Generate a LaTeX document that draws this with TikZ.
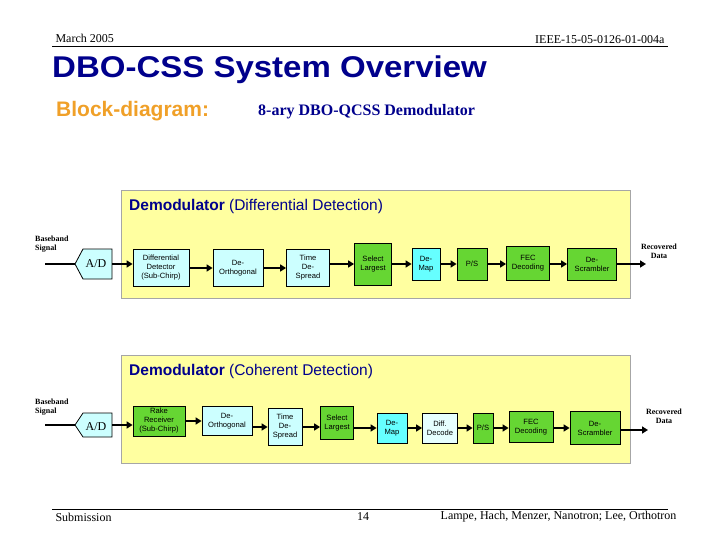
\documentclass[tikz,border=0pt]{standalone}
\usepackage{fontspec}
\setmainfont{Liberation Serif}
\newfontfamily\sans{Liberation Sans}
\usetikzlibrary{arrows.meta}
\definecolor{navy}{RGB}{0,0,140}
\definecolor{panel}{RGB}{255,255,160}
\definecolor{cy}{RGB}{204,255,255}
\definecolor{cy2}{RGB}{102,255,255}
\definecolor{cy3}{RGB}{230,255,255}
\definecolor{gr}{RGB}{102,214,51}
\definecolor{orng}{RGB}{240,160,40}
\tikzset{
 blk/.style={draw=black,line width=0.8pt,align=center,font=\sans\fontsize{7.6}{9}\selectfont,inner sep=0pt},
 cyb/.style={blk,fill=cy},
 grb/.style={blk,fill=gr},
 pan/.style={draw=black!35,fill=panel,line width=0.8pt},
 arr/.style={line width=2.4pt,-{Triangle[length=6pt,width=7pt]}},
 lbl/.style={font=\bfseries\fontsize{8}{9}\selectfont,align=center,inner sep=0pt}
}
\begin{document}
\begin{tikzpicture}[x=1pt,y=-1pt]
\useasboundingbox (0,0) rectangle (720,540);
% header
\node[anchor=west,font=\fontsize{12}{14}\selectfont] (hd1) at (52,38) {March 2005};
\node[anchor=east,font=\fontsize{12}{14}\selectfont] (hd2) at (668,40) {IEEE-15-05-0126-01-004a};
\draw[line width=1pt] (52,47) -- (668,47);
\node[anchor=west,font=\sans\bfseries\fontsize{30}{34}\selectfont,text=navy,inner sep=0pt,xscale=1.1,transform shape] (title) at (52,70) {DBO-CSS System Overview};
\node[anchor=west,font=\sans\bfseries\fontsize{21}{24}\selectfont,text=orng,inner sep=0pt] (bd) at (56,111) {Block-diagram:};
\node[anchor=west,font=\bfseries\fontsize{16}{18}\selectfont,text=navy,inner sep=0pt] (sub) at (258,112) {8-ary DBO-QCSS Demodulator};
% panel 1
\draw[pan] (121,190) rectangle (630,298);
\node[anchor=west,font=\sans\fontsize{15.5}{18}\selectfont,text=navy,inner sep=0pt] (t1) at (129,206) {\bfseries Demodulator\mdseries{} (Differential Detection)};
\node[lbl,anchor=north west,align=left] (bs1) at (35,236) {Baseband\\Signal};
\coordinate (in1) at (45,264);
\draw[line width=0.8pt,fill=cy] (75,264) -- (83,249) -- (112,249) -- (112,279) -- (83,279) -- cycle;
\node[font=\fontsize{12}{14}\selectfont,inner sep=0pt] (ad1) at (96,264) {A/D};
\coordinate (ad1w) at (75,264); \coordinate (ad1e) at (112,264);
\node[cyb,minimum width=56pt,minimum height=37pt] (a1) at (161,268) {Differential\\Detector\\(Sub-Chirp)};
\node[cyb,minimum width=50pt,minimum height=37pt] (a2) at (238,268) {De-\\Orthogonal};
\node[cyb,minimum width=43pt,minimum height=37pt] (a3) at (308,268) {Time\\De-\\Spread};
\node[grb,minimum width=37pt,minimum height=42pt] (a4) at (373,264) {Select\\Largest};
\node[blk,fill=cy2,minimum width=28pt,minimum height=32pt] (a5) at (426,264) {De-\\Map};
\node[grb,minimum width=30pt,minimum height=32pt] (a6) at (472,264) {P/S};
\node[grb,minimum width=43pt,minimum height=34pt] (a7) at (528,263) {FEC\\Decoding};
\node[grb,minimum width=49pt,minimum height=32pt] (a8) at (592,264) {De-\\Scrambler};
\coordinate (out1) at (646,264);
\node[lbl] (rd1) at (659,251) {Recovered\\Data};
\draw[line width=2.4pt] (in1) -- (ad1w);
\draw[arr] (ad1e) -- (a1.west|-ad1e);
\draw[arr] (a1) -- (a2);
\draw[arr] (a2) -- (a3);
\draw[arr] (a3.east|-a4) -- (a4);
\draw[arr] (a4) -- (a5);
\draw[arr] (a5) -- (a6);
\draw[arr] (a6) -- (a7.west|-a6);
\draw[arr] (a7.east|-a8) -- (a8);
\draw[arr] (a8) -- (out1);
% panel 2
\draw[pan] (121,355) rectangle (630,463);
\node[anchor=west,font=\sans\fontsize{15.5}{18}\selectfont,text=navy,inner sep=0pt] (t2) at (129,371) {\bfseries Demodulator\mdseries{} (Coherent Detection)};
\node[lbl,anchor=north west,align=left] (bs2) at (35,399) {Baseband\\Signal};
\coordinate (in2) at (45,425);
\draw[line width=0.8pt,fill=cy] (75,425) -- (83,413) -- (112,413) -- (112,437) -- (83,437) -- cycle;
\node[font=\fontsize{12}{14}\selectfont,inner sep=0pt] (ad2) at (96,427) {A/D};
\coordinate (ad2w) at (75,425); \coordinate (ad2e) at (112,425);
\node[grb,minimum width=52pt,minimum height=30pt] (b1) at (159,421) {Rake\\Receiver\\(Sub-Chirp)};
\node[cyb,minimum width=50pt,minimum height=29pt] (b2) at (227,421) {De-\\Orthogonal};
\node[cyb,minimum width=34pt,minimum height=37pt] (b3) at (285,427) {Time\\De-\\Spread};
\node[grb,minimum width=33pt,minimum height=33pt] (b4) at (337,423) {Select\\Largest};
\node[blk,fill=cy2,minimum width=30pt,minimum height=30pt] (b5) at (392,428) {De-\\Map};
\node[blk,fill=cy3,minimum width=35pt,minimum height=30pt] (b6) at (440,428) {Diff.\\Decode};
\node[grb,minimum width=20pt,minimum height=30pt] (b7) at (483,428) {P/S};
\node[grb,minimum width=44pt,minimum height=31pt] (b8) at (531,427) {FEC\\Decoding};
\node[grb,minimum width=50pt,minimum height=33pt] (b9) at (595,428) {De-\\Scrambler};
\coordinate (out2) at (648,430);
\node[lbl] (rd2) at (664,416) {Recovered\\Data};
\draw[line width=2.4pt] (in2) -- (ad2w);
\draw[arr] (ad2e) -- (b1.west|-ad2e);
\draw[arr] (b1) -- (b2);
\draw[arr] (b2.east|-b3) -- (b3);
\draw[arr] (b3) -- (b4.west|-b3);
\draw[arr] (b4.east|-b5) -- (b5);
\draw[arr] (b5) -- (b6);
\draw[arr] (b6) -- (b7);
\draw[arr] (b7) -- (b8.west|-b7);
\draw[arr] (b8.east|-b9) -- (b9);
\draw[arr] (b9.east|-out2) -- (out2);
% footer
\draw[line width=1pt] (52,509) -- (668,509);
\node[anchor=west,font=\fontsize{12}{14}\selectfont] (ft1) at (52,517) {Submission};
\node[font=\fontsize{12}{14}\selectfont] (ft2) at (363,517) {14};
\node[anchor=east,font=\fontsize{12}{14}\selectfont] (ft3) at (680,517) {Lampe, Hach, Menzer, Nanotron; Lee, Orthotron};
\end{tikzpicture}
\end{document}
